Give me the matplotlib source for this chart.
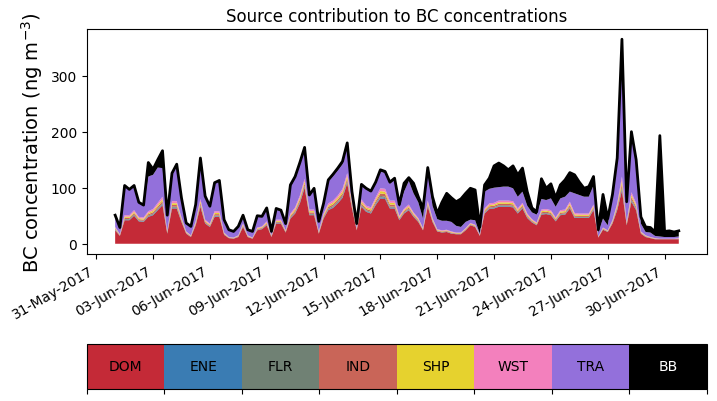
import numpy as np
import pandas as pd
import matplotlib
matplotlib.use("Agg")
import matplotlib.pyplot as plt
import matplotlib.dates as mdates
from matplotlib.colors import ListedColormap, BoundaryNorm
from matplotlib.cm import ScalarMappable

# 6-hourly source contributions (ng m-3)
times = pd.date_range("2017-06-01", periods=120, freq="6h")

sources = ["DOM", "ENE", "FLR", "IND", "SHP", "WST", "TRA", "BB"]
colors = ["#c42a37", "#3a7cb3", "#708174", "#c96558", "#e6d22e", "#f380bd", "#9370db", "#000000"]

dom = [24, 14, 42, 42, 50, 40, 39, 48, 51, 60,
       69, 18, 63, 63, 39, 18, 12, 33, 66, 36,
       30, 48, 48, 16, 10, 9, 12, 30, 12, 9,
       24, 26, 33, 12, 36, 36, 20, 45, 54, 72,
       100, 51, 51, 18, 45, 60, 64, 72, 82, 108,
       63, 24, 66, 57, 54, 69, 81, 80, 63, 63,
       42, 54, 60, 48, 39, 24, 66, 39, 22, 20,
       21, 18, 17, 17, 24, 33, 30, 14, 54, 62,
       63, 66, 66, 66, 65, 54, 63, 46, 38, 33,
       52, 53, 51, 40, 51, 52, 63, 46, 46, 46,
       46, 60, 11, 25, 21, 36, 60, 95, 33, 75,
       60, 18, 12, 10, 8, 8, 8, 8, 8, 8]

ene = [0.6, 0.3, 0.9, 0.9, 1.0, 0.8, 0.8, 1.0, 1.1, 1.3,
       1.5, 0.5, 1.3, 1.3, 0.8, 0.4, 0.3, 0.7, 1.4, 0.7,
       0.6, 1.0, 1.0, 0.4, 0.2, 0.2, 0.3, 0.6, 0.3, 0.2,
       0.5, 0.5, 0.7, 0.3, 0.7, 0.7, 0.4, 0.9, 1.1, 1.4,
       1.6, 1.0, 1.0, 0.4, 0.9, 1.2, 1.3, 1.4, 1.6, 1.8,
       1.2, 0.4, 1.3, 1.1, 1.1, 1.4, 1.8, 1.8, 1.4, 1.4,
       0.8, 0.9, 1.0, 0.8, 0.7, 0.4, 1.1, 0.7, 0.4, 0.4,
       0.4, 0.4, 0.3, 0.3, 0.4, 0.4, 0.4, 0.2, 0.9, 1.0,
       1.0, 1.1, 1.1, 1.1, 1.1, 0.9, 1.0, 0.8, 0.6, 0.5,
       0.9, 0.9, 0.9, 0.7, 0.9, 0.9, 1.2, 0.9, 0.8, 0.8,
       0.8, 1.0, 0.2, 0.4, 0.3, 0.6, 1.2, 2.5, 0.6, 1.7,
       1.2, 0.4, 0.3, 0.2, 0.2, 0.1, 0.1, 0.1, 0.1, 0.2]

flr = [0.8, 0.4, 1.2, 1.2, 1.4, 1.1, 1.1, 1.4, 1.5, 1.8,
       2.1, 0.7, 1.8, 1.8, 1.1, 0.5, 0.4, 1.0, 2.0, 1.0,
       0.8, 1.4, 1.4, 0.5, 0.2, 0.2, 0.4, 0.8, 0.4, 0.2,
       0.7, 0.7, 1.0, 0.4, 1.0, 1.0, 0.5, 1.2, 1.5, 2.0,
       2.2, 1.4, 1.4, 0.5, 1.2, 1.7, 1.8, 2.0, 2.2, 2.5,
       1.7, 0.5, 1.8, 1.5, 1.5, 2.0, 2.5, 2.5, 2.0, 2.0,
       1.1, 1.2, 1.4, 1.1, 1.0, 0.5, 1.5, 1.0, 0.5, 0.5,
       0.5, 0.5, 0.4, 0.4, 0.5, 0.5, 0.5, 0.2, 1.2, 1.4,
       1.4, 1.5, 1.5, 1.5, 1.5, 1.2, 1.4, 1.1, 0.8, 0.7,
       1.2, 1.2, 1.2, 1.0, 1.2, 1.2, 1.7, 1.2, 1.1, 1.1,
       1.1, 1.4, 0.2, 0.5, 0.4, 0.8, 1.7, 3.5, 0.8, 2.4,
       1.7, 0.5, 0.4, 0.2, 0.2, 0.1, 0.1, 0.1, 0.1, 0.2]

ind = [1.5, 0.8, 2.2, 2.2, 2.5, 2.0, 2.0, 2.5, 2.7, 3.2,
       3.7, 1.2, 3.2, 3.2, 2.0, 1.0, 0.8, 1.7, 3.5, 1.7,
       1.5, 2.5, 2.5, 1.0, 0.5, 0.5, 0.8, 1.5, 0.8, 0.5,
       1.2, 1.2, 1.7, 0.8, 1.7, 1.7, 1.0, 2.2, 2.7, 3.5,
       4.0, 2.5, 2.5, 1.0, 2.2, 3.0, 3.2, 3.5, 4.0, 4.5,
       3.0, 1.0, 3.2, 2.7, 2.7, 3.5, 4.5, 4.5, 3.5, 3.5,
       2.0, 2.2, 2.5, 2.0, 1.7, 1.0, 2.7, 1.7, 1.0, 1.0,
       1.0, 1.0, 0.8, 0.8, 1.0, 1.0, 1.0, 0.5, 2.2, 2.5,
       2.5, 2.7, 2.7, 2.7, 2.7, 2.2, 2.5, 2.0, 1.5, 1.2,
       2.2, 2.2, 2.2, 1.7, 2.2, 2.2, 3.0, 2.2, 2.0, 2.0,
       2.0, 2.5, 0.5, 1.0, 0.8, 1.5, 3.0, 6.2, 1.5, 4.2,
       3.0, 1.0, 0.8, 0.5, 0.5, 0.3, 0.3, 0.3, 0.3, 0.5]

shp = [1.4, 0.7, 2.1, 2.1, 2.3, 1.9, 1.9, 2.3, 2.6, 3.0,
       3.5, 1.2, 3.0, 3.0, 1.9, 1.0, 0.7, 1.6, 3.2, 1.6,
       1.4, 2.3, 2.3, 1.0, 0.5, 0.5, 0.7, 1.4, 0.7, 0.5,
       1.2, 1.2, 1.6, 0.7, 1.6, 1.6, 1.0, 2.1, 2.6, 3.2,
       3.7, 2.3, 2.3, 1.0, 2.1, 2.8, 3.0, 3.2, 3.7, 4.2,
       2.8, 1.0, 3.0, 2.6, 2.6, 3.2, 4.2, 4.2, 3.2, 3.2,
       1.9, 2.1, 2.3, 1.9, 1.6, 1.0, 2.6, 1.6, 1.0, 1.0,
       1.0, 1.0, 0.7, 0.7, 1.0, 1.0, 1.0, 0.5, 2.1, 2.3,
       2.3, 2.6, 2.6, 2.6, 2.6, 2.1, 2.3, 1.9, 1.4, 1.2,
       2.1, 2.1, 2.1, 1.6, 2.1, 2.1, 2.8, 2.1, 1.9, 1.9,
       1.9, 2.3, 0.5, 1.0, 0.7, 1.4, 2.8, 5.8, 1.4, 3.9,
       2.8, 1.0, 0.7, 0.5, 0.5, 0.2, 0.2, 0.2, 0.2, 0.5]

wst = [1.7, 0.8, 2.6, 2.6, 2.8, 2.2, 2.2, 2.8, 3.1, 3.7,
       4.2, 1.4, 3.7, 3.7, 2.2, 1.1, 0.8, 2.0, 3.9, 2.0,
       1.7, 2.8, 2.8, 1.1, 0.6, 0.6, 0.8, 1.7, 0.8, 0.6,
       1.4, 1.4, 2.0, 0.8, 2.0, 2.0, 1.1, 2.6, 3.1, 3.9,
       4.5, 2.8, 2.8, 1.1, 2.6, 3.3, 3.7, 3.9, 4.5, 5.0,
       3.3, 1.1, 3.7, 3.1, 3.1, 3.9, 5.0, 5.0, 3.9, 3.9,
       2.2, 2.6, 2.8, 2.2, 2.0, 1.1, 3.1, 2.0, 1.1, 1.1,
       1.1, 1.1, 0.8, 0.8, 1.1, 1.1, 1.1, 0.6, 2.6, 2.8,
       2.8, 3.1, 3.1, 3.1, 3.1, 2.6, 2.8, 2.2, 1.7, 1.4,
       2.6, 2.6, 2.6, 2.0, 2.6, 2.6, 3.3, 2.6, 2.2, 2.2,
       2.2, 2.8, 0.6, 1.1, 0.8, 1.7, 3.3, 7.0, 1.7, 4.8,
       3.3, 1.1, 0.8, 0.6, 0.6, 0.3, 0.3, 0.3, 0.3, 0.6]

tra = [20, 11, 52, 45, 43, 25, 21, 62, 61, 63,
       51, 27, 49, 65, 34, 14, 15, 29, 67, 41,
       30, 50, 54, 22, 12, 10, 15, 14, 9, 10,
       19, 16, 22, 6, 18, 15, 10, 47, 51, 54,
       52, 24, 36, 17, 16, 39, 44, 45, 44, 48,
       15, 7, 25, 29, 27, 24, 30, 28, 30, 37,
       15, 30, 42, 34, 28, 17, 52, 22, 18, 17,
       16, 17, 12, 10, 11, 6, 8, 2, 30, 26,
       27, 24, 25, 25, 23, 21, 20, 14, 12, 14,
       19, 16, 21, 19, 21, 23, 18, 35, 33, 30,
       30, 34, 7, 16, 9, 43, 75, 220, 30, 102,
       68, 14, 6, 8, 4, 4, 3, 3, 3, 3]

bb = [1, 1, 1, 1, 1, 1, 1, 25, 10, 14,
      31, 1, 1, 1, 1, 1, 1, 1, 6, 1,
      1, 1, 1, 1, 1, 1, 1, 1, 1, 1,
      2, 2, 2, 1, 2, 2, 2, 4, 4, 5,
      4, 2, 2, 1, 2, 3, 3, 4, 5, 6,
      3, 1, 2, 2, 2, 3, 3, 3, 3, 3,
      5, 15, 6, 18, 10, 18, 7, 16, 10, 33,
      49, 43, 43, 50, 51, 56, 54, 12, 12, 19,
      39, 43, 37, 30, 40, 39, 42, 25, 8, 5,
      36, 21, 26, 16, 24, 30, 34, 33, 23, 15,
      18, 16, 5, 43, 12, 3, 6, 25, 6, 6,
      10, 12, 9, 9, 7, 180, 10, 11, 9, 10]

series = [dom, ene, flr, ind, shp, wst, tra, bb]
total = np.sum(np.array(series), axis=0)

fig = plt.figure(figsize=(7.17, 4.02), dpi=100)
ax = fig.add_axes([0.1213, 0.3657, 0.8647, 0.5597])

polys = ax.stackplot(times, *series, colors=colors, linewidth=0)
for p in polys:
    p.sticky_edges.y.clear()
ax.plot(times, total, color="black", linewidth=2)
ax.autoscale_view()

ax.set_xticks(pd.date_range("2017-05-31", "2017-06-30", freq="3D"))
ax.xaxis.set_major_formatter(mdates.DateFormatter("%d-%b-%Y"))
plt.setp(ax.get_xticklabels(), rotation=30, ha="right")
ax.set_ylabel("BC concentration (ng m$^{-3}$)", fontsize=14)
ax.set_title("Source contribution to BC concentrations", fontsize=12)

# colour key below the plot
cax = fig.add_axes([0.1213, 0.0299, 0.8647, 0.112])
cmap = ListedColormap(colors)
norm = BoundaryNorm(np.arange(len(sources) + 1), cmap.N)
cb = fig.colorbar(ScalarMappable(norm=norm, cmap=cmap), cax=cax,
                  orientation="horizontal", ticks=np.arange(len(sources) + 1))
cb.set_ticklabels([])
for i, s in enumerate(sources):
    cax.text(i + 0.5, 0.5, s, ha="center", va="center", fontsize=10,
             color="white" if s == "BB" else "black")

fig.savefig("out.png", dpi=100)
